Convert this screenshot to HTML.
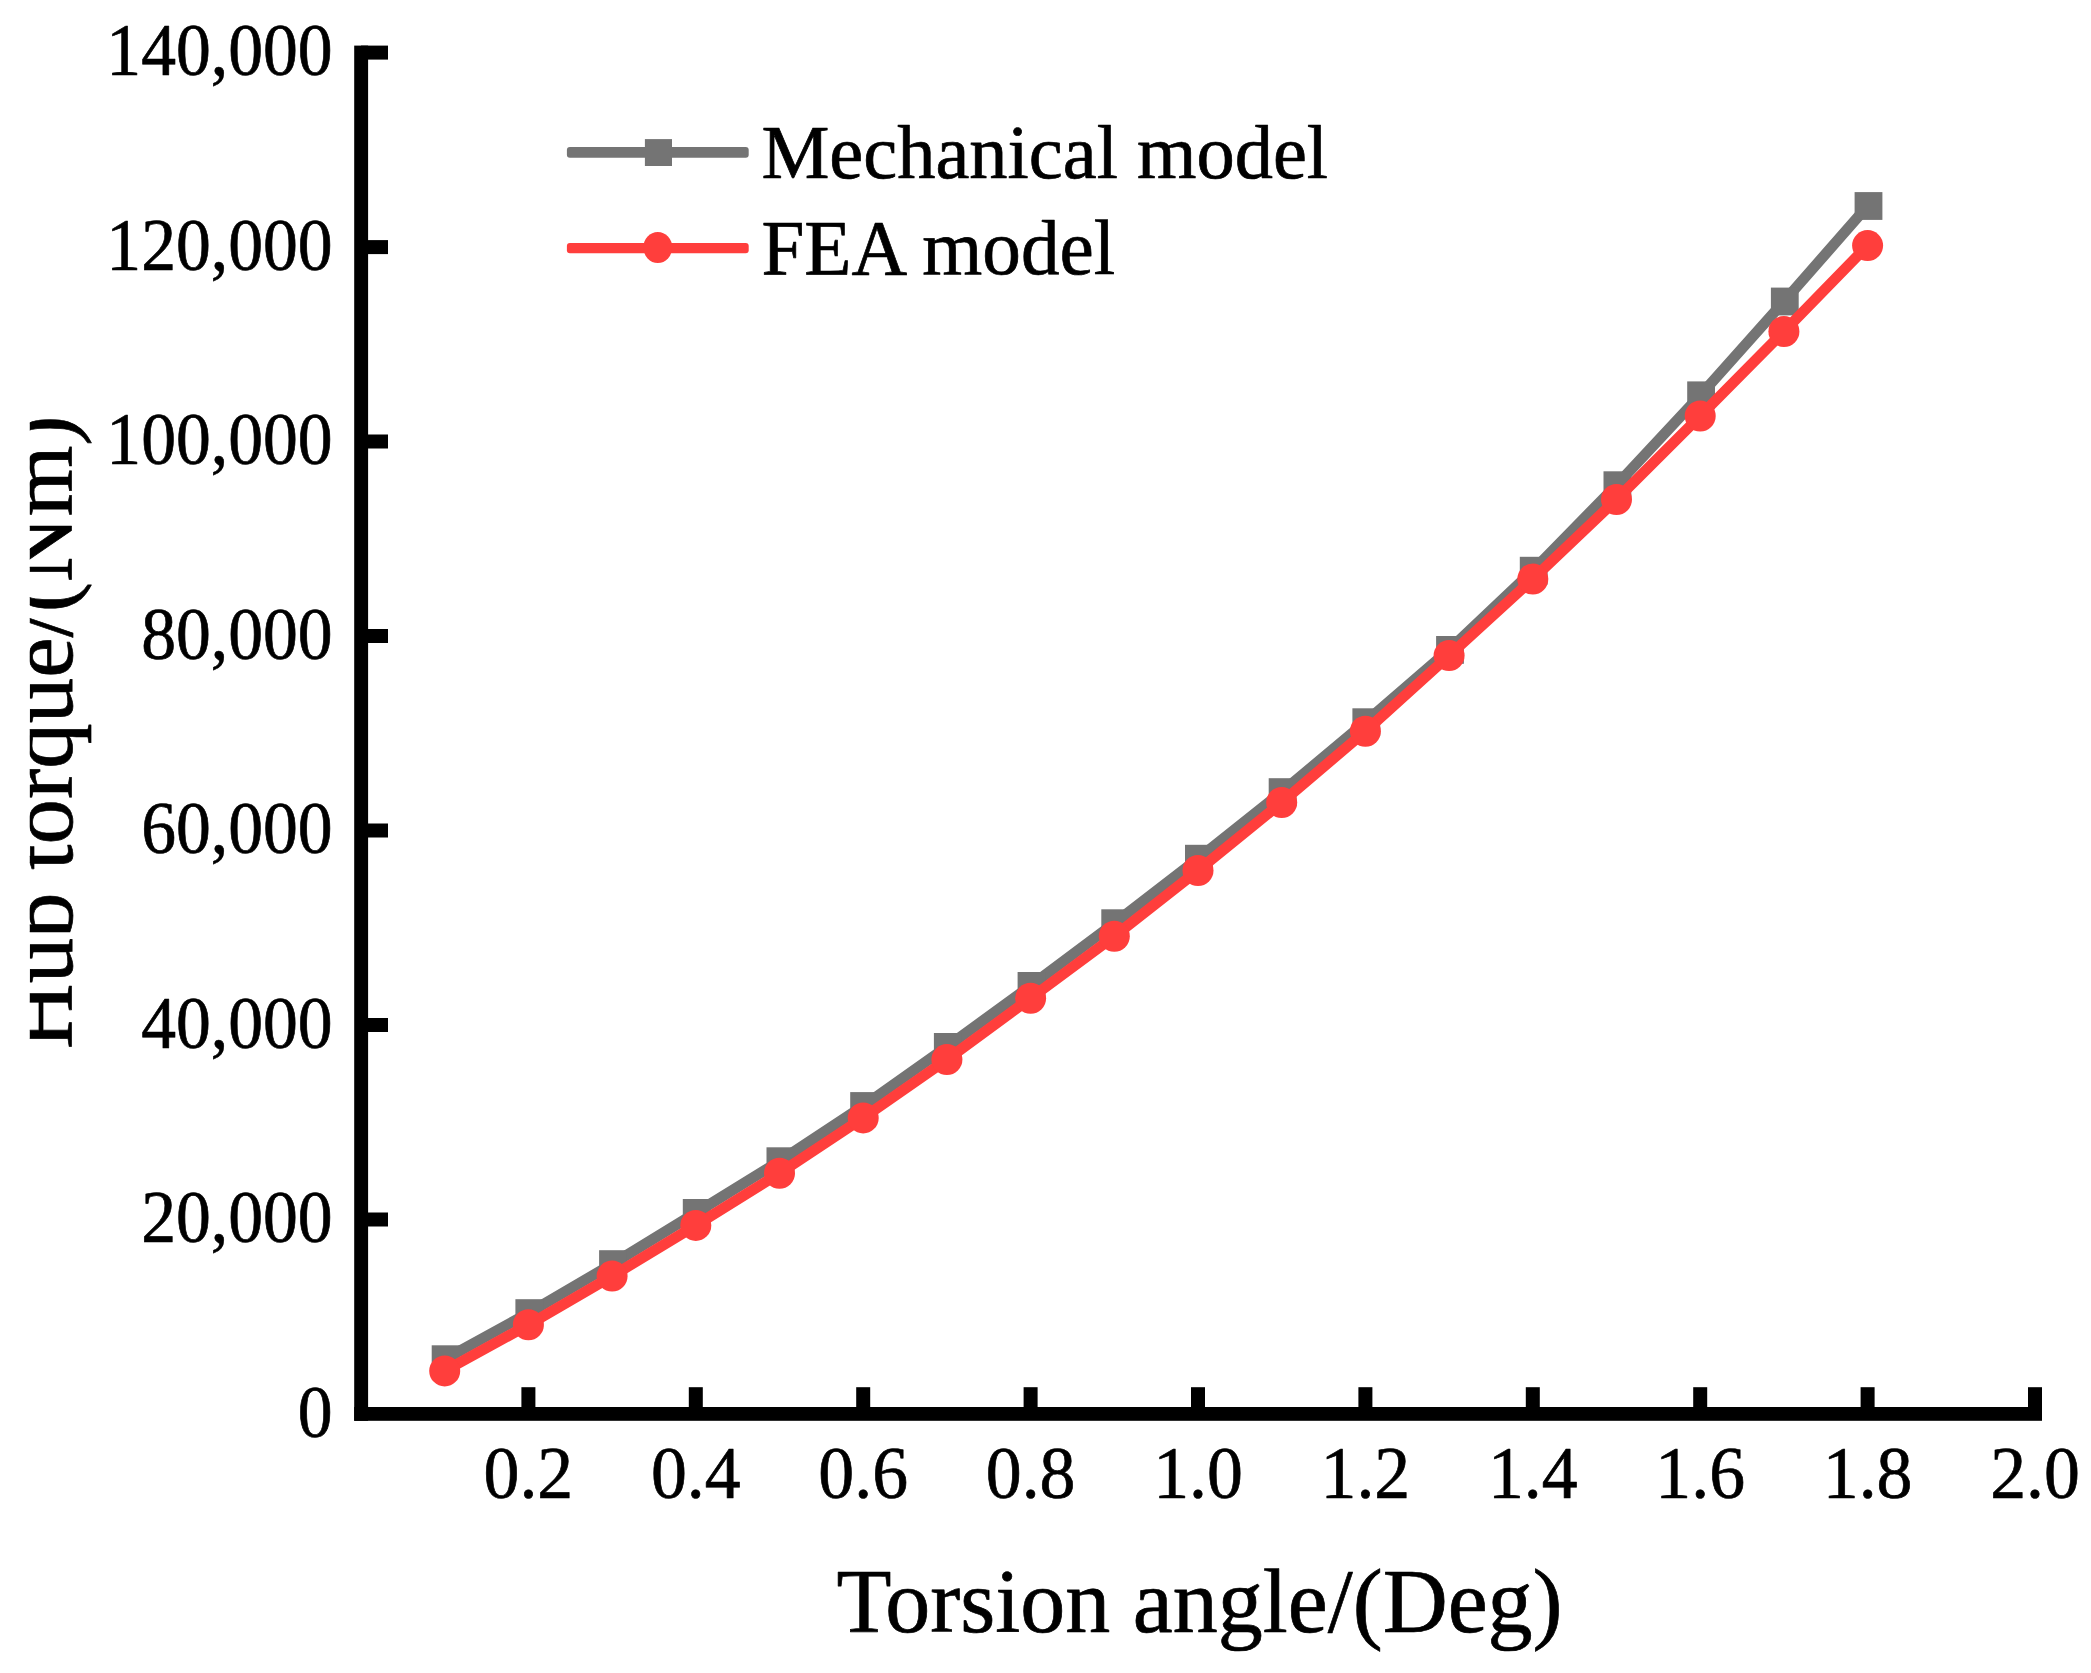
<!DOCTYPE html>
<html lang="en"><head><meta charset="utf-8"><title>Hub torque vs torsion angle</title>
<style>html,body{margin:0;padding:0;background:#fff}body{width:2091px;height:1673px;overflow:hidden}svg{display:block}text{font-family:"Liberation Serif","Times New Roman",serif;fill:#000;stroke:#000;stroke-width:0.7px;stroke-linejoin:round}</style>
</head><body>
<svg width="2091" height="1673" viewBox="0 0 2091 1673">
<rect width="2091" height="1673" fill="#fff"/>
<polyline points="444.7,1359.2 528.4,1313.1 612.1,1264.1 695.8,1212.9 779.5,1161.2 863.2,1106.0 946.9,1046.9 1030.6,985.9 1114.3,923.2 1198.0,858.7 1281.7,792.1 1365.4,722.2 1449.1,649.9 1532.8,570.7 1616.5,485.2 1700.2,395.3 1783.9,301.5 1867.6,206.0" fill="none" stroke="#747474" stroke-width="10.7" stroke-linejoin="round" stroke-linecap="round"/>
<rect x="431.7" y="1345.3" width="27.8" height="27.8" fill="#747474"/>
<rect x="515.4" y="1299.2" width="27.8" height="27.8" fill="#747474"/>
<rect x="599.1" y="1250.2" width="27.8" height="27.8" fill="#747474"/>
<rect x="682.8" y="1199.0" width="27.8" height="27.8" fill="#747474"/>
<rect x="766.5" y="1147.3" width="27.8" height="27.8" fill="#747474"/>
<rect x="850.2" y="1092.1" width="27.8" height="27.8" fill="#747474"/>
<rect x="933.9" y="1033.0" width="27.8" height="27.8" fill="#747474"/>
<rect x="1017.6" y="972.0" width="27.8" height="27.8" fill="#747474"/>
<rect x="1101.3" y="909.3" width="27.8" height="27.8" fill="#747474"/>
<rect x="1185.0" y="844.8" width="27.8" height="27.8" fill="#747474"/>
<rect x="1268.7" y="778.2" width="27.8" height="27.8" fill="#747474"/>
<rect x="1352.4" y="708.3" width="27.8" height="27.8" fill="#747474"/>
<rect x="1436.1" y="636.0" width="27.8" height="27.8" fill="#747474"/>
<rect x="1519.8" y="556.8" width="27.8" height="27.8" fill="#747474"/>
<rect x="1603.5" y="471.3" width="27.8" height="27.8" fill="#747474"/>
<rect x="1687.2" y="381.4" width="27.8" height="27.8" fill="#747474"/>
<rect x="1770.9" y="287.6" width="27.8" height="27.8" fill="#747474"/>
<rect x="1854.6" y="192.1" width="27.8" height="27.8" fill="#747474"/>
<polyline points="444.7,1370.9 528.4,1324.8 612.1,1276.1 695.8,1225.4 779.5,1173.3 863.2,1117.9 946.9,1059.6 1030.6,998.2 1114.3,936.2 1198.0,870.5 1281.7,802.5 1365.4,731.2 1449.1,655.6 1532.8,579.1 1616.5,499.5 1700.2,416.0 1783.9,331.5 1867.6,245.6" fill="none" stroke="#ff3e3c" stroke-width="10.7" stroke-linejoin="round" stroke-linecap="round"/>
<circle cx="444.7" cy="1370.9" r="15.5" fill="#ff3e3c"/>
<circle cx="528.4" cy="1324.8" r="15.5" fill="#ff3e3c"/>
<circle cx="612.1" cy="1276.1" r="15.5" fill="#ff3e3c"/>
<circle cx="695.8" cy="1225.4" r="15.5" fill="#ff3e3c"/>
<circle cx="779.5" cy="1173.3" r="15.5" fill="#ff3e3c"/>
<circle cx="863.2" cy="1117.9" r="15.5" fill="#ff3e3c"/>
<circle cx="946.9" cy="1059.6" r="15.5" fill="#ff3e3c"/>
<circle cx="1030.6" cy="998.2" r="15.5" fill="#ff3e3c"/>
<circle cx="1114.3" cy="936.2" r="15.5" fill="#ff3e3c"/>
<circle cx="1198.0" cy="870.5" r="15.5" fill="#ff3e3c"/>
<circle cx="1281.7" cy="802.5" r="15.5" fill="#ff3e3c"/>
<circle cx="1365.4" cy="731.2" r="15.5" fill="#ff3e3c"/>
<circle cx="1449.1" cy="655.6" r="15.5" fill="#ff3e3c"/>
<circle cx="1532.8" cy="579.1" r="15.5" fill="#ff3e3c"/>
<circle cx="1616.5" cy="499.5" r="15.5" fill="#ff3e3c"/>
<circle cx="1700.2" cy="416.0" r="15.5" fill="#ff3e3c"/>
<circle cx="1783.9" cy="331.5" r="15.5" fill="#ff3e3c"/>
<circle cx="1867.6" cy="245.6" r="15.5" fill="#ff3e3c"/>
<g fill="#000">
<rect x="354.2" y="45.6" width="13.9" height="1375.2"/>
<rect x="354.2" y="1407" width="1687.8" height="13.8"/>
<rect x="361" y="1212.5" width="27" height="14"/>
<rect x="361" y="1018.0" width="27" height="14"/>
<rect x="361" y="823.5" width="27" height="14"/>
<rect x="361" y="629.0" width="27" height="14"/>
<rect x="361" y="434.5" width="27" height="14"/>
<rect x="361" y="240.1" width="27" height="14"/>
<rect x="361" y="45.6" width="27" height="14"/>
<rect x="521.4" y="1387.2" width="14" height="27"/>
<rect x="688.8" y="1387.2" width="14" height="27"/>
<rect x="856.2" y="1387.2" width="14" height="27"/>
<rect x="1023.6" y="1387.2" width="14" height="27"/>
<rect x="1191.0" y="1387.2" width="14" height="27"/>
<rect x="1358.4" y="1387.2" width="14" height="27"/>
<rect x="1525.8" y="1387.2" width="14" height="27"/>
<rect x="1693.2" y="1387.2" width="14" height="27"/>
<rect x="1860.6" y="1387.2" width="14" height="27"/>
<rect x="2028.0" y="1387.2" width="14" height="27"/>
</g>
<g font-size="74.5" text-anchor="end">
<text transform="translate(332.7,1436.6) scale(0.935,1)">0</text>
<text transform="translate(332.7,1242.1) scale(0.935,1)">20,000</text>
<text transform="translate(332.7,1047.6) scale(0.935,1)">40,000</text>
<text transform="translate(332.7,853.1) scale(0.935,1)">60,000</text>
<text transform="translate(332.7,658.6) scale(0.935,1)">80,000</text>
<text transform="translate(332.7,464.1) scale(0.935,1)">100,000</text>
<text transform="translate(332.7,269.7) scale(0.935,1)">120,000</text>
<text transform="translate(332.7,75.2) scale(0.935,1)">140,000</text>
</g>
<g font-size="74.5" text-anchor="middle">
<text transform="translate(528.4,1498.2) scale(0.963,1)">0.2</text>
<text transform="translate(695.8,1498.2) scale(0.963,1)">0.4</text>
<text transform="translate(863.2,1498.2) scale(0.963,1)">0.6</text>
<text transform="translate(1030.6,1498.2) scale(0.963,1)">0.8</text>
<text transform="translate(1198.0,1498.2) scale(0.963,1)">1.0</text>
<text transform="translate(1365.4,1498.2) scale(0.963,1)">1.2</text>
<text transform="translate(1532.8,1498.2) scale(0.963,1)">1.4</text>
<text transform="translate(1700.2,1498.2) scale(0.963,1)">1.6</text>
<text transform="translate(1867.6,1498.2) scale(0.963,1)">1.8</text>
<text transform="translate(2035.0,1498.2) scale(0.963,1)">2.0</text>
</g>
<text x="1199.6" y="1632.2" font-size="90" text-anchor="middle">Torsion angle/(Deg)</text>
<clipPath id="yclip"><rect x="29.8" y="0" width="120" height="1673"/></clipPath>
<g clip-path="url(#yclip)"><text transform="translate(71.6,732.2) rotate(-90)" font-size="90.9" text-anchor="middle">Hub torque/(Nm)</text></g>
<rect x="566.9" y="147.1" width="181.8" height="10.6" rx="3" fill="#747474"/>
<rect x="644.9" y="139.1" width="27.1" height="26.9" fill="#747474"/>
<rect x="566.9" y="243" width="181.8" height="10.2" rx="3" fill="#ff3e3c"/>
<ellipse cx="657.8" cy="247.5" rx="14.4" ry="15.6" fill="#ff3e3c"/>
<text x="761.4" y="177.8" font-size="76.45">Mechanical model</text>
<text x="761.4" y="273.7" font-size="77.2">FEA model</text>
</svg>
</body></html>
